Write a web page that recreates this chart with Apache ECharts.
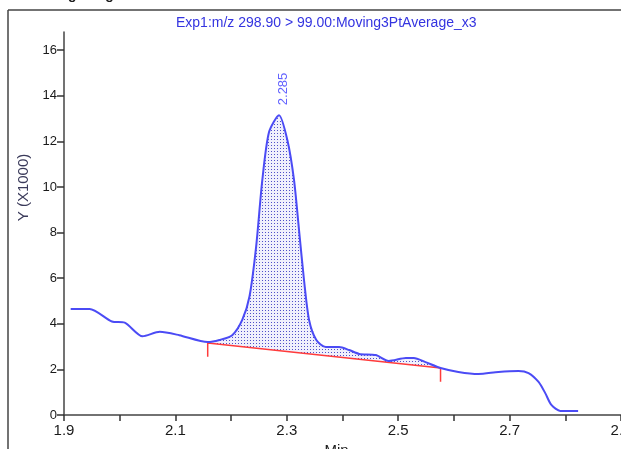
<!DOCTYPE html>
<html>
<head>
<meta charset="utf-8">
<script src="https://cdn.jsdelivr.net/npm/echarts@6/dist/echarts.min.js"></script>
<style>
html,body{margin:0;padding:0;background:#fff;}
#chart{width:621px;height:449px;}
</style>
</head>
<body>
<div id="chart"></div>
<script>
// ---- data (time in min, intensity in thousands) ----
const times = [1.912, 1.946, 1.986, 2.009, 2.041, 2.072, 2.107, 2.158, 2.179, 2.202, 2.220, 2.233, 2.245, 2.256, 2.268, 2.286, 2.301, 2.313, 2.322, 2.331, 2.340, 2.353, 2.370, 2.394, 2.412, 2.430, 2.460, 2.483, 2.514, 2.528, 2.549, 2.576, 2.608, 2.644, 2.680, 2.716, 2.734, 2.752, 2.764, 2.775, 2.791, 2.823];
const intensity = [4.65, 4.65, 4.10, 4.05, 3.45, 3.65, 3.50, 3.20, 3.29, 3.50, 4.17, 5.20, 7.40, 10.30, 12.40, 13.15, 12.06, 10.30, 8.10, 5.90, 4.17, 3.29, 2.98, 2.98, 2.85, 2.68, 2.63, 2.37, 2.50, 2.50, 2.32, 2.06, 1.89, 1.80, 1.89, 1.93, 1.84, 1.45, 0.96, 0.44, 0.18, 0.18];
const baseTimes = [2.158, 2.576];
const baseValues = [3.16, 2.06];
const baseTickDrop = 0.6;
const peakTime = 2.286;
const peakValue = 13.15;
const peakLabel = '2.285';
const xTickValues = [1.9, 2.0, 2.1, 2.2, 2.3, 2.4, 2.5, 2.6, 2.7, 2.8, 2.9];
const xLabelValues = [1.9, 2.1, 2.3, 2.5, 2.7, 2.9];
const yTickValues = [0, 2, 4, 6, 8, 10, 12, 14, 16];
const titleText = 'Processing Integration Results';
const subText = 'Exp1:m/z 298.90 > 99.00:Moving3PtAverage_x3';

const curve = times.map((t, i) => [t, intensity[i]]);
const fillPts = curve.filter(p => p[0] >= baseTimes[0] - 1e-9 && p[0] <= baseTimes[1] + 1e-9);
const redPath = [
  [baseTimes[0], baseValues[0] - baseTickDrop],
  [baseTimes[0], baseValues[0]],
  [baseTimes[1], baseValues[1]],
  [baseTimes[1], baseValues[1] - baseTickDrop]
];

// dotted fill pattern
const pc = document.createElement('canvas');
pc.width = 3; pc.height = 3;
const pctx = pc.getContext('2d');
pctx.fillStyle = '#f0f0fc';
pctx.fillRect(0, 0, 3, 3);
pctx.fillStyle = '#5050c8';
pctx.fillRect(1, 1, 1, 1);

const chart = echarts.init(document.getElementById('chart'), null, {renderer: 'canvas'});
const font = 'Liberation Sans, Arial, sans-serif';
chart.setOption({
  animation: false,
  backgroundColor: '#fff',
  title: {
    text: subText,
    left: 171,
    top: 11,
    textStyle: {fontFamily: font, fontSize: 14, fontWeight: 'normal', color: '#3434e0'}
  },
  graphic: [
    {type: 'text', left: 1, top: -12, style: {text: titleText, font: 'bold 14px Liberation Sans, Arial', fill: '#1a1a1a'}},
    {type: 'line', shape: {x1: 8, y1: 10, x2: 621, y2: 10}, style: {stroke: '#444', lineWidth: 1.5}},
    {type: 'line', shape: {x1: 8, y1: 10, x2: 8, y2: 449}, style: {stroke: '#444', lineWidth: 1.5}}
  ],
  grid: {left: 64, right: 0, top: 32, bottom: 34, containLabel: false, outerBoundsMode: 'none'},
  xAxis: {
    type: 'value', min: 1.9, max: 2.9, interval: 0.1,
    name: 'Min', nameLocation: 'middle', nameGap: 26,
    nameTextStyle: {fontFamily: font, fontSize: 15, color: '#1a1a1a', padding: [0, 12, 0, 0]},
    axisLine: {lineStyle: {color: '#444', width: 1.5}},
    axisTick: {show: true, length: 6, customValues: xTickValues, lineStyle: {color: '#333', width: 1.5}},
    axisLabel: {customValues: xLabelValues, fontFamily: font, fontSize: 15, color: '#1a1a1a', margin: 8,
      formatter: v => v.toFixed(1)},
    splitLine: {show: false}
  },
  yAxis: {
    type: 'value', min: 0, max: 16.8, interval: 2,
    name: 'Y (X1000)', nameLocation: 'middle', nameGap: 31,
    nameTextStyle: {fontFamily: font, fontSize: 15, color: '#3a3a5a', padding: [0, 0, 0, 72]},
    axisLine: {show: true, lineStyle: {color: '#444', width: 1.5}},
    axisTick: {show: true, length: 7, customValues: yTickValues, lineStyle: {color: '#333', width: 1.5}},
    axisLabel: {customValues: yTickValues, fontFamily: font, fontSize: 13, color: '#1a1a1a', margin: 7},
    splitLine: {show: false}
  },
  series: [
    {
      type: 'custom',
      renderItem: function (params, api) {
        const pts = fillPts.map(p => api.coord(p));
        pts.push(api.coord([baseTimes[1], baseValues[1]]));
        pts.push(api.coord([baseTimes[0], baseValues[0]]));
        return {type: 'polygon', shape: {points: pts}, style: {fill: {image: pc, repeat: 'repeat'}, stroke: null}};
      },
      data: [0],
      z: 1
    },
    {
      type: 'line', data: curve, smooth: 0.25, showSymbol: false,
      lineStyle: {color: '#4b4bf5', width: 2}, z: 3
    },
    {
      type: 'line', data: redPath, showSymbol: false,
      lineStyle: {color: '#ff3b3b', width: 1.5}, z: 2
    },
    {
      type: 'scatter', data: [[peakTime, peakValue]], symbolSize: 0,
      label: {show: true, formatter: peakLabel, position: 'top', distance: 8, rotate: 90,
        align: 'left', verticalAlign: 'middle', offset: [2, 4],
        fontFamily: font, fontSize: 13, color: '#3a3aff'},
      z: 4
    }
  ]
});
</script>
</body>
</html>
